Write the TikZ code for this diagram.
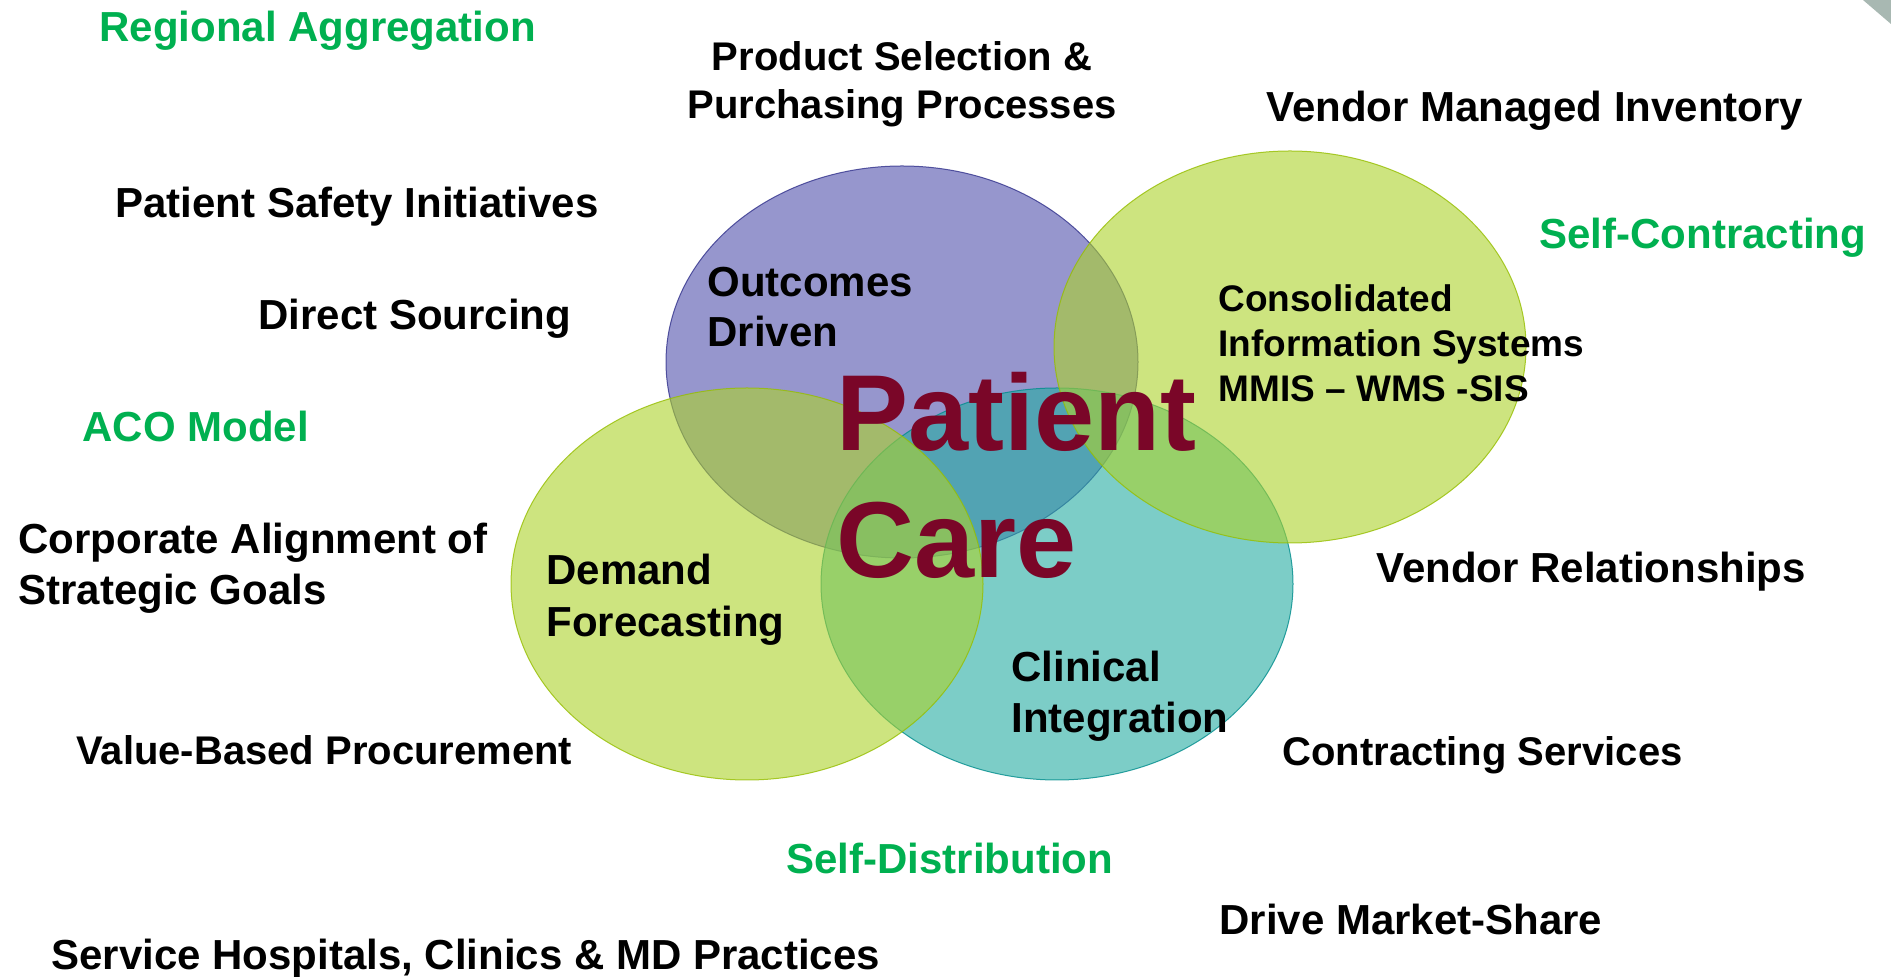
\documentclass[tikz,border=0pt]{standalone}
\usepackage{fontspec}
\setmainfont{Liberation Sans}
\definecolor{gtext}{RGB}{0,176,80}
\definecolor{careRed}{RGB}{122,6,40}
\definecolor{purpFill}{RGB}{80,80,172}
\definecolor{purpLine}{RGB}{50,50,140}
\definecolor{tealFill}{RGB}{38,172,163}
\definecolor{tealLine}{RGB}{0,140,140}
\definecolor{grnFill}{RGB}{172,210,43}
\definecolor{grnLine}{RGB}{150,190,0}
\definecolor{cornerGray}{RGB}{168,184,178}
\begin{document}
\begin{tikzpicture}[x=0.5pt,y=-0.5pt,
  lbl/.style={inner sep=0pt, anchor=north west, align=left, text=black,
    font=\bfseries\fontsize{21}{25}\selectfont},
  lblsm/.style={lbl, font=\bfseries\fontsize{20}{24}\selectfont},
  grn/.style={lbl, text=gtext},
  blob/.style={fill opacity=0.6, draw opacity=0.8, line width=0.5pt},
  purpblob/.style={blob, fill=purpFill, draw=purpLine},
  tealblob/.style={blob, fill=tealFill, draw=tealLine},
  grnblob/.style={blob, fill=grnFill, draw=grnLine}]
\useasboundingbox (0,0) rectangle (1891,977);
\fill[white] (0,0) rectangle (1891,977);
\fill[cornerGray] (1863,0) -- (1891,0) -- (1891,24) -- cycle;

% ellipses
\path[purpblob] (902,362) ellipse [x radius=118pt, y radius=98pt];
\path[tealblob] (1057,584) ellipse [x radius=118pt, y radius=98pt];
\path[grnblob] (747,584) ellipse [x radius=118pt, y radius=98pt];
\path[grnblob] (1290,347) ellipse [x radius=118pt, y radius=98pt];

% labels
\node[grn] (regagg) at (99,11) {Regional Aggregation};
\node[lblsm, anchor=north, align=center] (prodsel) at (902,41) {Product Selection \&\\Purchasing Processes};
\node[lbl] (vmi) at (1266,91) {Vendor Managed Inventory};
\node[lbl] (psi) at (115,187) {Patient Safety Initiatives};
\node[grn] (selfcon) at (1539,218) {Self-Contracting};
\node[lbl] (dirsrc) at (258,299) {Direct Sourcing};
\node[lbl] (outc) at (707,267) {Outcomes\\Driven};
\node[lbl, font=\bfseries\fontsize{18.5}{22.5}\selectfont] (cis) at (1218,284) {Consolidated\\Information Systems\\MMIS – WMS -SIS};
\node[grn] (aco) at (82,411) {ACO Model};
\node[lbl, text=careRed, font=\bfseries\fontsize{54}{63.5}\selectfont] (care) at (836,372) {Patient\\Care};
\node[lbl, font=\bfseries\fontsize{21}{25.5}\selectfont] (corp) at (18,523) {Corporate Alignment of\\Strategic Goals};
\node[lbl, font=\bfseries\fontsize{21}{26}\selectfont] (demand) at (546,554) {Demand\\Forecasting};
\node[lbl] (vrel) at (1376,552) {Vendor Relationships};
\node[lbl, font=\bfseries\fontsize{21}{25.5}\selectfont] (clin) at (1011,651) {Clinical\\Integration};
\node[lblsm] (vbp) at (76,735) {Value-Based Procurement};
\node[lblsm] (consvc) at (1282,736) {Contracting Services};
\node[grn] (selfdist) at (786,843) {Self-Distribution};
\node[lbl] (dms) at (1219,904) {Drive Market-Share};
\node[lbl] (svc) at (51,939) {Service Hospitals, Clinics \& MD Practices};
\end{tikzpicture}
\end{document}
